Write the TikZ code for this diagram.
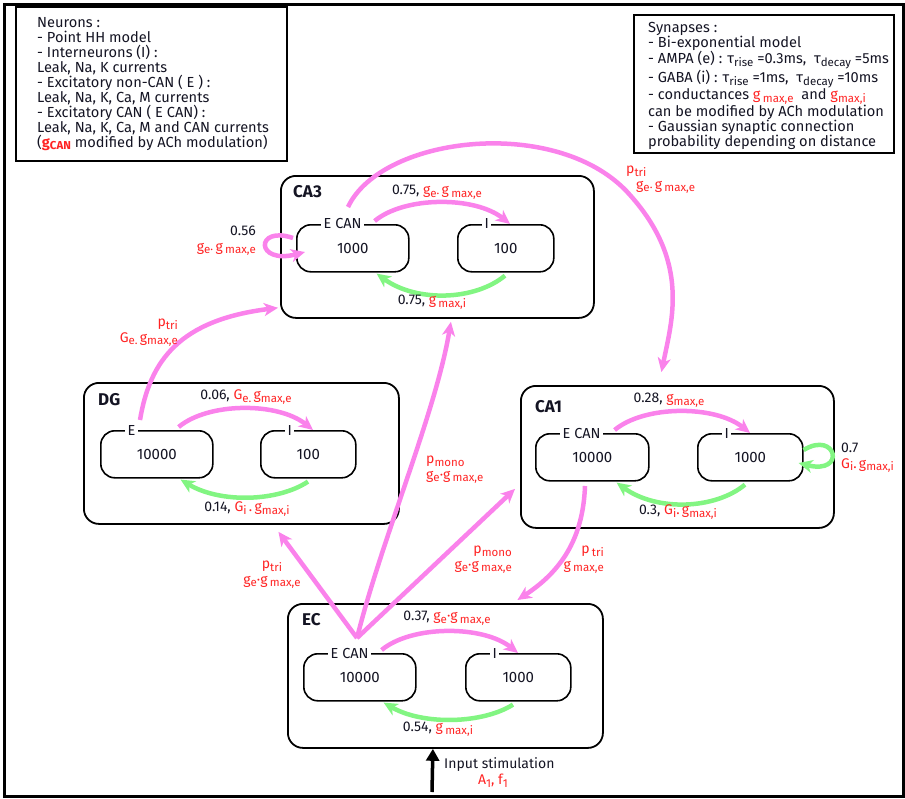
\documentclass[tikz,border=0pt]{standalone}
\usepackage{fontspec}
\setmainfont{Fira Sans}
\usetikzlibrary{arrows.meta,calc}
\definecolor{pk}{RGB}{250,130,235}
\definecolor{gr}{RGB}{130,245,130}
\definecolor{rd}{RGB}{255,35,35}
\definecolor{ink}{RGB}{20,20,35}
\newcommand\sbx[1]{\raisebox{-0.35ex}{\fontsize{11.5}{11.5}\selectfont #1}}
\newcommand\rl[1]{\textcolor{rd}{#1}}
\begin{document}
\begin{tikzpicture}[x=1pt,y=-1pt,
  region/.style={draw,line width=1.8pt,rounded corners=15pt,inner sep=0,anchor=north west},
  pop/.style={draw,line width=1.6pt,rounded corners=14pt,minimum height=47pt,inner sep=0,anchor=north west,font=\fontsize{15}{16}\selectfont,text=ink},
  ttl/.style={fill=white,inner xsep=2.5pt,inner ysep=1pt,anchor=west,font=\fontsize{14.5}{16}\selectfont,text=ink},
  rtitle/.style={anchor=west,inner sep=0,font=\fontsize{17}{18}\selectfont\bfseries,text=ink},
  lab/.style={inner sep=0,font=\fontsize{14}{15.5}\selectfont,text=ink},
  legbox/.style={draw,line width=2pt,inner sep=0,anchor=north west},
  legtxt/.style={inner sep=0,anchor=north west,align=left,font=\fontsize{14.6}{15}\selectfont,text=ink},
  pa/.style={draw=pk,line width=4.5pt,-{Stealth[length=14pt,width=13pt,inset=4pt]}},
  ga/.style={draw=gr,line width=4.5pt,-{Stealth[length=14pt,width=13pt,inset=4pt]}},
  ia/.style={draw=black,line width=3.5pt,-{Triangle[length=12pt,width=13pt]}}
]
\useasboundingbox (0,0) rectangle (905,798);
\node[draw,line width=3pt,minimum width=899pt,minimum height=792pt,anchor=north west,inner sep=0] (frame) at (3,3) {};

% legends
\node[legbox,minimum width=271pt,minimum height=154pt] (legn) at (15,6) {};
\node[legtxt] (legntxt) at (37,17) {Neurons :\\
- Point HH model\\
- Interneurons (I) :\\
Leak, Na, K currents\\
- Excitatory non-CAN ( E ) :\\
Leak, Na, K, Ca, M currents\\
- Excitatory CAN ( E CAN) :\\
Leak, Na, K, Ca, M and CAN currents\\
(\rl{\textbf{g}\sbx{\bfseries CAN}} modified by ACh modulation)};

\node[legbox,minimum width=260pt,minimum height=138pt] (legs) at (633,14) {};
\node[legtxt] (legstxt) at (648,22) {Synapses :\\
- Bi-exponential model\\
- AMPA (e) : τ\sbx{rise} =0.3ms,\ \ τ\sbx{decay} =5ms\\
- GABA (i) : τ\sbx{rise} =1ms,\ \ τ\sbx{decay} =10ms\\
- conductances \rl{g\,\sbx{max,e}}\ \ and \rl{g\sbx{max,i}}\\
can be modified by ACh modulation\\
- Gaussian synaptic connection\\
probability depending on distance};

% regions
\node[region,minimum width=313pt,minimum height=142pt] (ca3) at (280,175) {};
\node[region,minimum width=315pt,minimum height=141pt] (dg) at (83,382) {};
\node[region,minimum width=313pt,minimum height=142pt] (ca1) at (520,385) {};
\node[region,minimum width=315pt,minimum height=144pt] (ec) at (287,603) {};

\node[rtitle] (ca3t) at (293,192) {CA3};
\node[rtitle] (dgt) at (98,400) {DG};
\node[rtitle] (ca1t) at (535,407) {CA1};
\node[rtitle] (ect) at (302,620) {EC};

% populations
\node[pop,minimum width=112pt] (ca3e) at (296,224) {1000};
\node[pop,minimum width=96pt] (ca3i) at (457,224) {100};
\node[pop,minimum width=112pt] (dge) at (100,430) {10000};
\node[pop,minimum width=95pt] (dgi) at (260,430) {100};
\node[pop,minimum width=113pt] (ca1e) at (535,433) {10000};
\node[pop,minimum width=105pt] (ca1i) at (697,433) {1000};
\node[pop,minimum width=112pt] (ece) at (303,653) {10000};
\node[pop,minimum width=105pt] (eci) at (465,653) {1000};

\node[ttl] (ca3et) at ([xshift=25pt]ca3e.north west) {E CAN};
\node[ttl] (ca3it) at ([xshift=25pt]ca3i.north west) {I};
\node[ttl] (dget) at ([xshift=25pt]dge.north west) {E};
\node[ttl] (dgit) at ([xshift=25pt]dgi.north west) {I};
\node[ttl] (ca1et) at ([xshift=25pt]ca1e.north west) {E CAN};
\node[ttl] (ca1it) at ([xshift=25pt]ca1i.north west) {I};
\node[ttl] (ecet) at ([xshift=25pt]ece.north west) {E CAN};
\node[ttl] (ecit) at ([xshift=25pt]eci.north west) {I};

% local connections
\foreach \e/\i/\d in {ca3e/ca3i/25,dge/dgi/20,ca1e/ca1i/25,ece/eci/19}{
  \draw[pa] ([xshift=-35pt,yshift=3pt]\e.north east) .. controls +(30,-25) and +(-35,-28) .. ([xshift=53pt]\i.north west);
  \draw[ga] ([xshift=48pt,yshift=-3pt]\i.south west) .. controls +(-30,\d) and +(40,\d+4) .. ([xshift=-33pt,yshift=-1pt]\e.south east);
}
% self loops
\draw[pa] ([xshift=-3pt,yshift=-14pt]ca3e.north west) .. controls +(-38,-13) and +(-50,13) .. ([xshift=9pt,yshift=-28pt]ca3e.north west);
\draw[ga] ([xshift=0pt,yshift=-17pt]ca1i.north east) .. controls +(33,-20) and +(48,12) .. ([xshift=-5pt,yshift=-30pt]ca1i.north east);

% long-range connections
\coordinate (ecsrc) at (357,638);
\coordinate (ca3src) at (348,207);
\coordinate (dgsrc) at (140,420);
\coordinate (ca1src) at (585,486);
\coordinate (inp) at (432,792);

\draw[pa] (ecsrc) -- ([xshift=37pt,yshift=-7pt]dg.south);
\draw[pa] (ecsrc) .. controls +(25,-100) and +(-15,90) .. ([xshift=13.5pt,yshift=-3pt]ca3.south);
\draw[pa] (ecsrc) -- ([xshift=-5pt,yshift=-32pt]ca1.west);
\draw[pa] (dgsrc) .. controls (150,360) and (180,320) .. ([xshift=-2pt,yshift=11pt]ca3.south west);
\draw[pa] (ca3src) .. controls (382,135) and (560,115) .. (630,195) .. controls (690,262) and (672,320) .. ([xshift=-16pt,yshift=13pt]ca1.north);
\draw[pa] (ca1src) .. controls (583,540) and (560,572) .. ([xshift=72pt,yshift=3pt]ec.north);
\draw[ia] (inp) -- ([xshift=-12.5pt]ec.south);

% labels
\node[lab] (lca3a) at (437,192) {0.75, \rl{g\sbx{e·}\,g\,\sbx{max,e}}};
\node[lab] (lca3b) at (432,302) {0.75, \rl{g\,\sbx{max,i}}};
\node[lab,align=right,anchor=east] (lca3s) at (256,241) {0.56\\\rl{g\sbx{e·}\,g\,\sbx{max,e}}};
\node[lab] (ldga) at (246,397) {0.06, \rl{G\sbx{e.}\,g\sbx{max,e}}};
\node[lab] (ldgb) at (247,509) {0.14, \rl{G\sbx{i}\,.\,g\sbx{max,i}}};
\node[lab,align=right,anchor=east] (ldg3) at (178,333) {\rl{p\sbx{tri}}\\\rl{G\sbx{e.}\,g\sbx{max,e}}};
\node[lab] (lca1a) at (669,400) {0.28, \rl{g\sbx{max,e}}};
\node[lab] (lca1b) at (678,512) {0.3, \rl{G\sbx{i}.\,g\sbx{max,i}}};
\node[lab,align=left,anchor=west] (lca1s) at (841,458) {0.7\\\rl{G\sbx{i}.\,g\sbx{max,i}}};
\node[lab,align=left,anchor=west] (l31) at (626,180) {\rl{p\sbx{tri}}\\\hspace*{10pt}\rl{g\sbx{e·}\,g\,\sbx{max,e}}};
\node[lab] (leca) at (447,618) {0.37, \rl{g\sbx{e}·g\,\sbx{max,e}}};
\node[lab] (lecb) at (438,729) {0.54, \rl{g\,\sbx{max,i}}};
\node[lab,align=center] (ledg) at (272,575) {\rl{p\sbx{tri}}\\\rl{g\sbx{e}·g\,\sbx{max,e}}};
\node[lab,align=left,anchor=west] (le3) at (426,470) {\rl{p\sbx{mono}}\\\rl{g\sbx{e}·g\,\sbx{max,e}}};
\node[lab,align=right,anchor=east] (le1) at (512,560) {\rl{p\sbx{mono}}\\\rl{g\sbx{e}·g\,\sbx{max,e}}};
\node[lab,align=right,anchor=east] (l1ec) at (604,560) {\rl{p\,\sbx{tri}}\\\rl{g\,\sbx{max,e}}};
\node[lab,anchor=west] (linp) at (444,765) {Input stimulation};
\node[lab] (linpb) at (493,781) {\rl{A\sbx{1}, f\sbx{1}}};
\end{tikzpicture}
\end{document}
